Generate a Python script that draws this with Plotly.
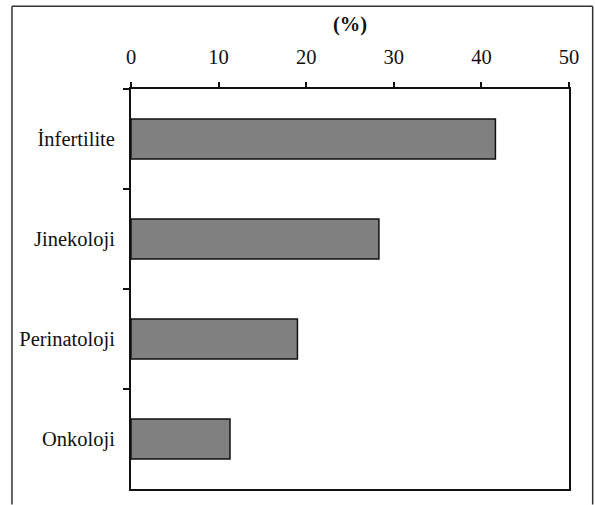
import plotly.graph_objects as go

categories = ["İnfertilite", "Jinekoloji", "Perinatoloji", "Onkoloji"]
values = [41.6, 28.3, 19.0, 11.3]
x_ticks = [0, 10, 20, 30, 40, 50]

W, H = 595, 505
L, R, T, B = 130.7, 569.3, 89.3, 489.5

fig = go.Figure(go.Bar(
    x=values, y=categories, orientation="h", width=0.4,
    marker=dict(color="#808080", line=dict(color="#111111", width=1.5)),
))

fnt = dict(family="Liberation Serif", size=20.5, color="#111111")

fig.update_layout(
    width=W, height=H,
    margin=dict(l=L, r=W - R, t=T, b=H - B, pad=0),
    paper_bgcolor="white", plot_bgcolor="white",
    showlegend=False, font=fnt,
    xaxis=dict(
        side="top", range=[0, 50], tickvals=x_ticks, ticks="outside", ticklen=5,
        tickwidth=1.5, tickcolor="#111111", showline=True, linecolor="#111111",
        linewidth=2, mirror=True, showgrid=False, zeroline=False,
        tickfont=fnt, ticklabelstandoff=10,
        title=dict(text="<b>(%)</b>", font=fnt, standoff=9),
    ),
    yaxis=dict(
        type="category", categoryorder="array", categoryarray=categories,
        autorange="reversed", tickson="boundaries", ticks="outside", ticklen=6,
        tickwidth=1.5, tickcolor="#111111", showline=True, linecolor="#111111",
        linewidth=2, mirror=True, showgrid=False, zeroline=False,
        tickfont=fnt, ticklabelstandoff=10,
    ),
)

# outer frame drawn as separate lines in pixel-derived paper coords
pw, ph = R - L, B - T
def px(x):
    return (x - L) / pw
def py(y):
    return (B - y) / ph
frame = dict(color="#333333", width=1.5)
fig.add_shape(type="line", xref="paper", yref="paper",
              x0=px(11.5), x1=px(593.0), y0=py(6.5), y1=py(6.5), line=frame)
fig.add_shape(type="line", xref="paper", yref="paper",
              x0=px(11.5), x1=px(11.5), y0=py(6.5), y1=py(505), line=frame)
fig.add_shape(type="line", xref="paper", yref="paper",
              x0=px(593.0), x1=px(593.0), y0=py(6.5), y1=py(505), line=frame)

fig.write_html(
    "out.html",
    config={"displayModeBar": False},
    post_script=("document.documentElement.style.overflow='hidden';"
                 "document.body.style.overflow='hidden';"
                 "document.body.style.margin='0';document.body.style.padding='0';"),
)
